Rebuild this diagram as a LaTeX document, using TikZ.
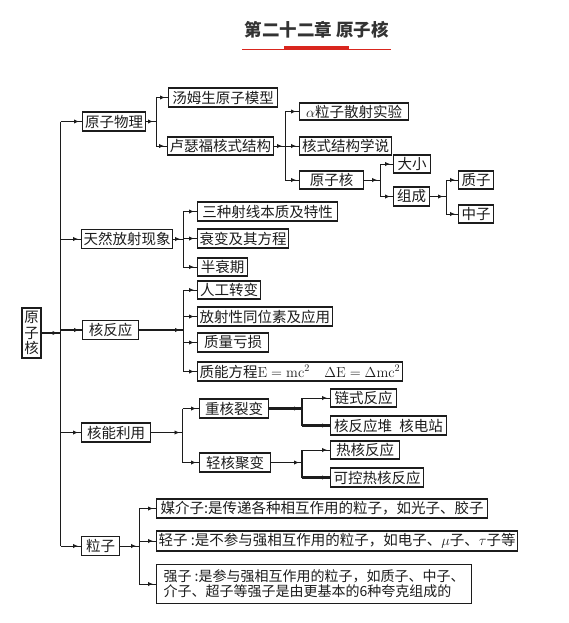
\documentclass[tikz,border=0pt]{standalone}
\usepackage{fontspec}
\usepackage{tikz}
\usetikzlibrary{arrows.meta, positioning, calc, decorations.markings}
\newfontfamily\cjk{Noto Sans CJK SC}
\definecolor{mapInk}{RGB}{28,28,28}
\definecolor{titleGrey}{RGB}{51,51,51}
\definecolor{titleRed}{RGB}{217,38,30}

\begin{document}
\begin{tikzpicture}[
    x=1pt, y=-1pt,
    box/.style={draw=mapInk, line width=1.1pt, rectangle, anchor=west, inner xsep=2pt, inner ysep=0pt, minimum height=19pt, font=\cjk\fontsize{14.5}{16}\selectfont, text=mapInk},
    link/.style={draw=mapInk, line width=0.9pt},
    boldlink/.style={draw=mapInk, line width=2.2pt},
    tipped/.style={postaction={decorate}, decoration={markings, mark=at position -3pt with {\arrow{Latex[length=5pt,width=4.5pt]}}}}
]
\useasboundingbox (0,0) rectangle (568,623);

% Title
\node (title) at (316.5,29.5) [font=\cjk\bfseries\fontsize{17.5}{20}\selectfont, text=titleGrey] {第二十二章 原子核};
\draw [titleRed, line width=1pt] (242,50) -- (391,50);
\fill [titleRed] (284,46) rectangle (349,50.5);

% Root and trunk
\node (root) [box, anchor=center, minimum width=19pt, minimum height=50pt, inner sep=0pt, align=center, font=\cjk\fontsize{14.5}{15.5}\selectfont] at (31.5,333) {原\\子\\核};
\coordinate (trunk) at (60.5,333);
\draw [boldlink, tipped] (root.east) -- (trunk);

% First level
\node (phys) [box, minimum width=63pt] at (82,121.5) {原子物理};
\node (rad) [box, minimum width=89pt] at (81,239) {天然放射现象};
\node (react) [box, minimum width=56pt] at (82,330) {核反应};
\node (use) [box, minimum width=69pt] at (81,432.5) {核能利用};
\node (part) [box, minimum width=38pt] at (81,546) {粒子};

\draw [link] (trunk |- phys.west) -- (trunk |- part.west);
\draw [link, tipped] (trunk |- phys.west) -- (phys.west);
\draw [link, tipped] (trunk |- rad.west) -- (rad.west);
\draw [boldlink, tipped] (trunk |- react.west) -- (react.west);
\draw [link, tipped] (trunk |- use.west) -- (use.west);
\draw [link, tipped] (trunk |- part.west) -- (part.west);

% Atomic physics
\node (thom) [box, minimum width=109pt] at (168,97.5) {汤姆生原子模型};
\node (ruth) [box, minimum width=104pt, minimum height=18pt] at (167,146) {卢瑟福核式结构};
\coordinate (physbar) at (156,121.5);
\draw [link, tipped] (phys.east) -- (physbar);
\draw [link] (physbar |- thom.west) -- (physbar |- ruth.west);
\draw [link, tipped] (physbar |- thom.west) -- (thom.west);
\draw [link, tipped] (physbar |- ruth.west) -- (ruth.west);

\node (alpha) [box, minimum width=109pt, minimum height=17pt] at (299,111.5) {$\alpha$粒子散射实验};
\node (model) [box, minimum width=92pt, minimum height=18pt] at (299,146) {核式结构学说};
\node (core) [box, minimum width=64pt, minimum height=18pt] at (299,180) {原子核};
\coordinate (ruthbar) at (285,146);
\draw [link, tipped] (ruth.east) -- (ruthbar);
\draw [link] (ruthbar |- alpha.west) -- (ruthbar |- core.west);
\draw [link, tipped] (ruthbar |- alpha.west) -- (alpha.west);
\draw [link, tipped] (ruthbar |- model.west) -- (model.west);
\draw [link, tipped] (ruthbar |- core.west) -- (core.west);

\node (size) [box, minimum width=37pt, minimum height=18pt] at (393,164) {大小};
\node (comp) [box, minimum width=36pt] at (393,196.5) {组成};
\coordinate (corebar) at (380,180);
\draw [link, tipped] (core.east) -- (corebar);
\draw [link] (corebar |- size.west) -- (corebar |- comp.west);
\draw [link, tipped] (corebar |- size.west) -- (size.west);
\draw [link, tipped] (corebar |- comp.west) -- (comp.west);

\node (prot) [box, minimum width=35pt, minimum height=18pt] at (458,180) {质子};
\node (neut) [box, minimum width=35pt, minimum height=18pt] at (458,214) {中子};
\coordinate (compbar) at (446,196.5);
\draw [link, tipped] (comp.east) -- (compbar);
\draw [link] (compbar |- prot.west) -- (compbar |- neut.west);
\draw [link, tipped] (compbar |- prot.west) -- (prot.west);
\draw [link, tipped] (compbar |- neut.west) -- (neut.west);

% Natural radioactivity
\node (rays) [box, minimum width=140pt] at (197,211.5) {三种射线本质及特性};
\node (decay) [box, minimum width=91pt] at (197,238.5) {衰变及其方程};
\node (half) [box, minimum width=50pt, minimum height=18pt] at (197,267) {半衰期};
\coordinate (radbar) at (183,239);
\draw [link, tipped] (rad.east) -- (radbar);
\draw [link] (radbar |- rays.west) -- (radbar |- half.west);
\draw [link, tipped] (radbar |- rays.west) -- (rays.west);
\draw [link, tipped] (radbar |- decay.west) -- (decay.west);
\draw [link, tipped] (radbar |- half.west) -- (half.west);

% Nuclear reactions
\node (art) [box, minimum width=63pt, minimum height=18pt] at (197,290) {人工转变};
\node (iso) [box, minimum width=132pt] at (197,316.5) {放射性同位素及应用};
\node (mass) [box, minimum width=71pt] at (197,342.5) {质量亏损};
\node (emc) [box, minimum width=201pt] at (197,371.5) {质能方程$\mathrm{E=mc^2}$\quad$\Delta\mathrm{E}=\Delta\mathrm{mc^2}$};
\coordinate (reactbar) at (183,330);
\draw [boldlink, tipped] (react.east) -- (reactbar);
\draw [link] (reactbar |- art.west) -- (reactbar |- emc.west);
\draw [link, tipped] (reactbar |- art.west) -- (art.west);
\draw [link, tipped] (reactbar |- iso.west) -- (iso.west);
\draw [link, tipped] (reactbar |- mass.west) -- (mass.west);
\draw [link, tipped] (reactbar |- emc.west) -- (emc.west);

% Nuclear energy
\node (fiss) [box, minimum width=69pt] at (199,408.5) {重核裂变};
\node (fus) [box, minimum width=71pt] at (199,462.5) {轻核聚变};
\coordinate (usebar) at (182.5,432.5);
\draw [link, tipped] (use.east) -- (usebar);
\draw [link] (usebar |- fiss.west) -- (usebar |- fus.west);
\draw [link, tipped] (usebar |- fiss.west) -- (fiss.west);
\draw [link, tipped] (usebar |- fus.west) -- (fus.west);

\node (chain) [box, minimum width=66pt, minimum height=18pt] at (330,398) {链式反应};
\node (plant) [box, minimum width=116pt] at (330,425.5) {核反应堆\enspace 核电站};
\coordinate (fissbar) at (302,408.5);
\draw [boldlink, tipped] (fiss.east) -- (fissbar);
\draw [boldlink] (fissbar |- chain.west) -- (fissbar |- plant.west);
\draw [link, tipped] (fissbar |- chain.west) -- (chain.west);
\draw [boldlink, tipped] (fissbar |- plant.west) -- (plant.west);

\node (hot) [box, minimum width=69pt, minimum height=18pt] at (330,450) {热核反应};
\node (ctrl) [box, minimum width=93pt] at (330,477.5) {可控热核反应};
\coordinate (fusbar) at (302,462.5);
\draw [link, tipped] (fus.east) -- (fusbar);
\draw [boldlink] (fusbar |- hot.west) -- (fusbar |- ctrl.west);
\draw [link, tipped] (fusbar |- hot.west) -- (hot.west);
\draw [boldlink, tipped] (fusbar |- ctrl.west) -- (ctrl.west);

% Particles
\node (med) [box, minimum width=331pt] at (156,508.5) {媒介子:是传递各种相互作用的粒子，如光子、胶子};
\node (lep) [box, minimum width=356pt, minimum height=20pt] at (156,541) {轻子 :是不参与强相互作用的粒子，如电子、$\mu$子、$\tau$子等};
\node (had) [box, minimum width=311pt, minimum height=39pt, align=left, inner xsep=7pt, font=\cjk\fontsize{14}{15}\selectfont] at (156,584) {强子 :是参与强相互作用的粒子，如质子、中子、\\介子、超子等强子是由更基本的6种夸克组成的};
\coordinate (partbar) at (139,546);
\draw [link, tipped] (part.east) -- (partbar);
\draw [link] (partbar |- med.west) -- (partbar |- had.west);
\draw [link, tipped] (partbar |- med.west) -- (med.west);
\draw [link, tipped] (partbar |- lep.west) -- (lep.west);
\draw [link, tipped] (partbar |- had.west) -- (had.west);

\end{tikzpicture}
\end{document}
